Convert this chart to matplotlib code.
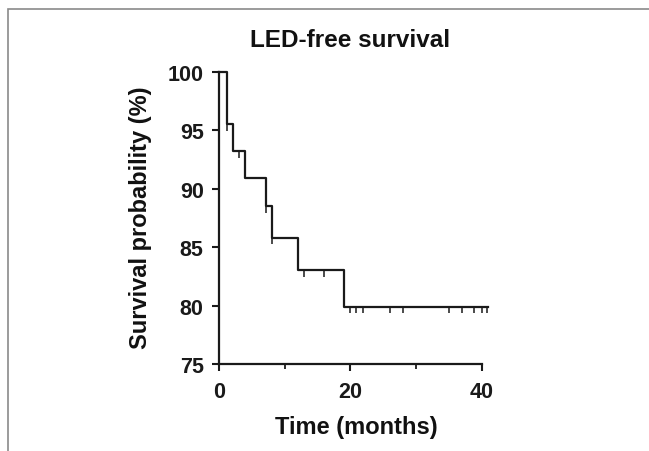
import numpy as np
import matplotlib
matplotlib.use('Agg')
import matplotlib.pyplot as plt
from matplotlib.patches import Rectangle

plt.rcParams['font.family'] = ['Liberation Sans', 'DejaVu Sans']
plt.rcParams['font.weight'] = 'bold'

# Kaplan-Meier steps
step_times = [0, 1.2, 2.2, 4.0, 7.1, 8.1, 12.0, 19.1, 40.9]
survival = [100, 95.5, 93.2, 90.9, 88.5, 85.8, 83.0, 79.9, 79.9]
# censored observations (tick marks)
censor_times = [1.2, 3.1, 7.1, 8.1, 13.0, 16.0, 19.9, 20.9, 22.0, 26.0,
                28.0, 35.0, 37.0, 38.9, 40.0, 40.8]

x_ticks = [0, 20, 40]
x_minor = [10, 30]
y_ticks = [75, 80, 85, 90, 95, 100]

W, H = 649, 452
fig = plt.figure(figsize=(W / 100, H / 100), dpi=100)
ax = fig.add_axes([219 / W, 1 - 365 / H, (481.7 - 219) / W, (365 - 72.7) / H])

# outer frame of the original figure
fig.patches.append(Rectangle((8 / W, -0.1), 1.1, 1.1 - 10 / H, transform=fig.transFigure,
                             fill=False, edgecolor='#8a8a8a', linewidth=1.2))

ax.step(step_times, survival, where='post', color='#1a1a1a', linewidth=1.6, clip_on=False)

# censor ticks hang below the curve
idx = np.searchsorted(step_times, censor_times, side='right') - 1
levels = np.array(survival)[idx]
ax.vlines(censor_times, levels - 0.55, levels, color='#1a1a1a', linewidth=1.1, clip_on=False)

ax.set_xlim(0, 40)
ax.set_ylim(75, 100)
ax.set_xticks(x_ticks)
ax.set_xticks(x_minor, minor=True)
ax.set_yticks(y_ticks)

for s in ['top', 'right']:
    ax.spines[s].set_visible(False)
for s in ['left', 'bottom']:
    ax.spines[s].set_linewidth(1.6)
    ax.spines[s].set_color('#1a1a1a')

ax.tick_params(axis='both', which='major', length=5, width=1.5, labelsize=15.5, colors='#1a1a1a')
ax.tick_params(axis='y', which='major', pad=6)
ax.tick_params(axis='x', which='major', pad=7)
ax.tick_params(axis='x', which='minor', length=3.5, width=1.3, colors='#1a1a1a')
for lab in ax.get_xticklabels() + ax.get_yticklabels():
    lab.set_fontweight('bold')

fig.text(350 / W, 1 - 47 / H, 'LED-free survival', fontsize=17.5, fontweight='bold',
         ha='center', va='baseline', color='#111111')
fig.text(356.5 / W, 1 - 434 / H, 'Time (months)', fontsize=17, fontweight='bold',
         ha='center', va='baseline', color='#111111')
fig.text(140 / W, 1 - 217.5 / H, 'Survival probability (%)', fontsize=17, fontweight='bold',
         ha='center', va='center', rotation=90, color='#111111')

fig.savefig('out.png', dpi=100)
